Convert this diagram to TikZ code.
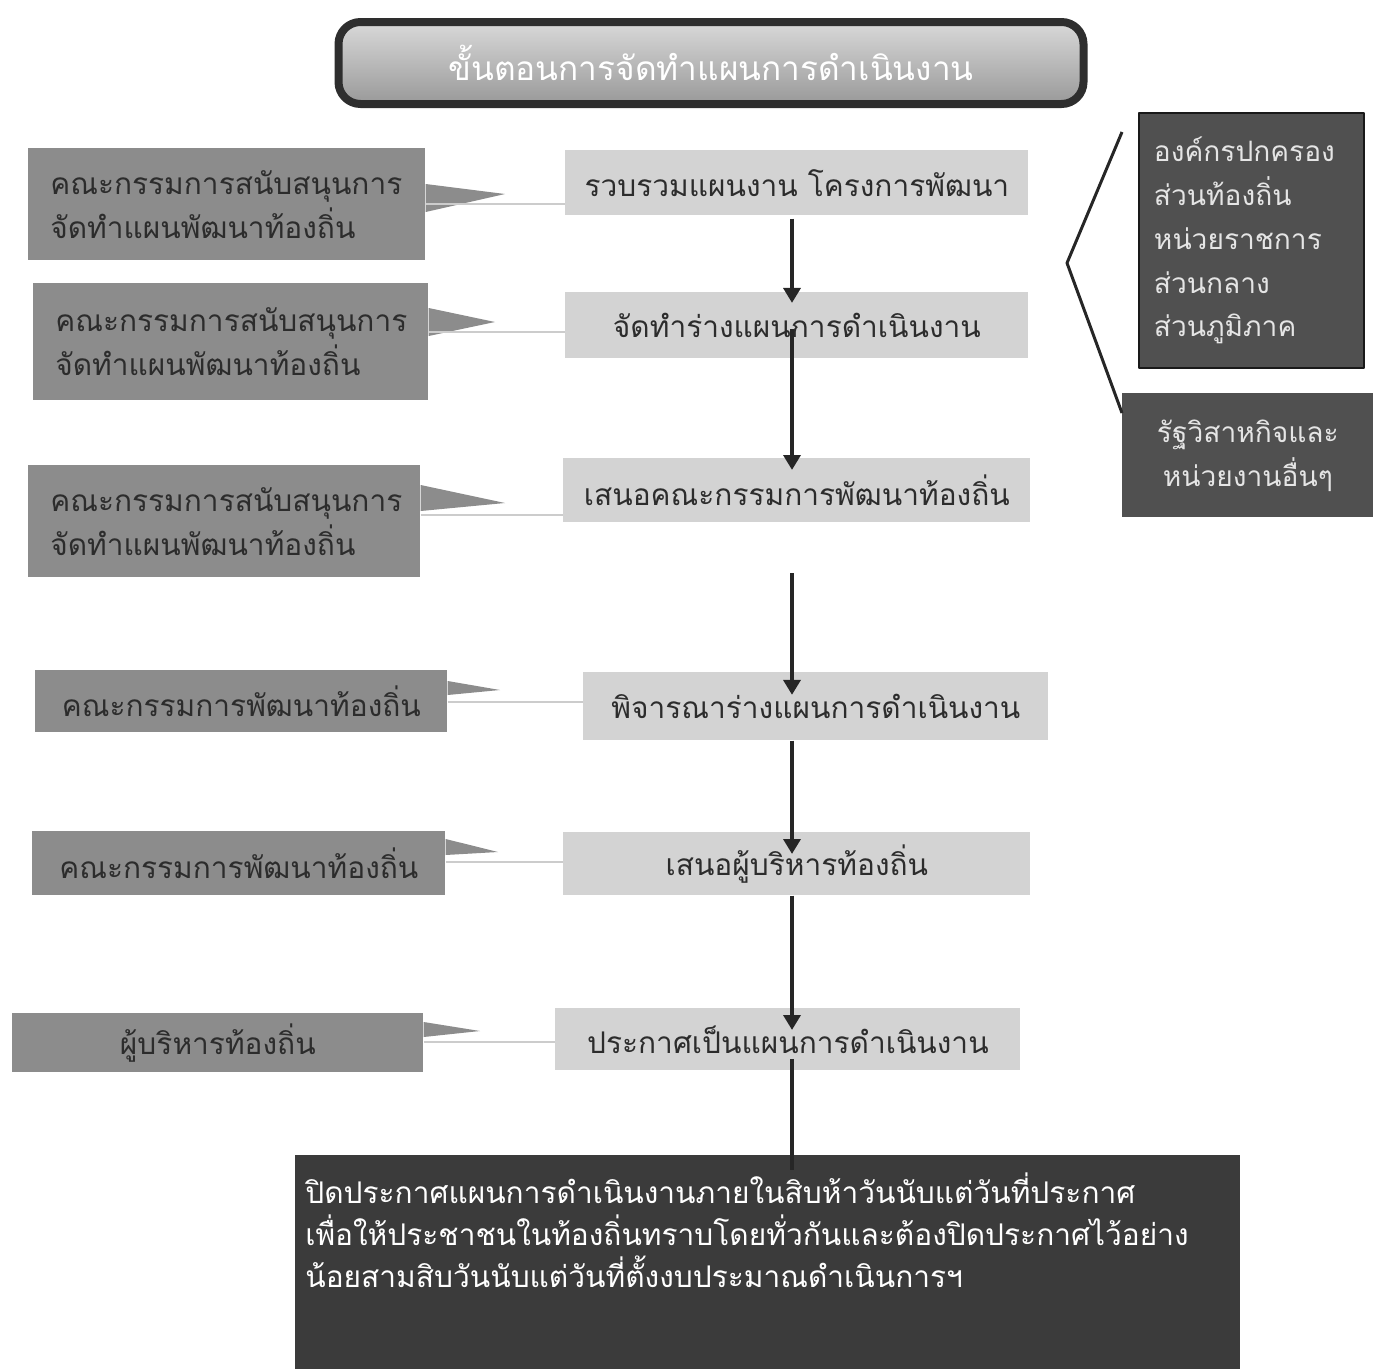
\documentclass[tikz,border=0pt]{standalone}
\usepackage{fontspec}
\newfontfamily\thaifont[Script=Thai]{Loma}
\usetikzlibrary{arrows.meta,positioning}
\newlength\pxu
\setlength\pxu{0.02cm}
\definecolor{callgray}{HTML}{8C8C8C}
\definecolor{stepgray}{HTML}{D3D3D3}
\definecolor{orggray}{HTML}{505050}
\definecolor{notegray}{HTML}{3B3B3B}
\definecolor{inkgray}{HTML}{2C2C2C}

\begin{document}
\begin{tikzpicture}[x=1\pxu, y=-1\pxu, line join=round]
  \tikzstyle{titlebox} = [draw=black!82, line width=8\pxu, rounded corners=22\pxu, top color=gray!30, bottom color=gray!80, minimum width=745\pxu, minimum height=82\pxu, text=white, font=\thaifont\fontsize{19}{24}\selectfont]
  \tikzstyle{callbox} = [fill=callgray, anchor=north west, inner xsep=22\pxu, inner ysep=0pt, text=inkgray, font=\thaifont\fontsize{17}{25}\selectfont]
  \tikzstyle{pointer} = [fill=callgray]
  \tikzstyle{stepbox} = [fill=stepgray, anchor=north west, inner sep=0pt, text=inkgray, font=\thaifont\fontsize{17}{24}\selectfont]
  \tikzstyle{orgbox} = [fill=orggray, anchor=north west, inner xsep=15\pxu, inner ysep=0pt, text=black!10, font=\thaifont\fontsize{16}{25}\selectfont]
  \tikzstyle{flow} = [draw=black!85, line width=2.3pt, -{Triangle[length=8.5pt,width=9.6pt]}]
  \tikzstyle{linkline} = [draw=gray!40, line width=1.1pt]
  \tikzstyle{bracket} = [draw=black!85, line width=1.7pt]

  \useasboundingbox (0,0) rectangle (1376,1369);

  % title
  \node[titlebox] (title) at (711,63) {ขั้นตอนการจัดทำแผนการดำเนินงาน};

  % steps in the middle
  \node[stepbox, minimum width=463\pxu, minimum height=65\pxu] (b1) at (565,150) {รวบรวมแผนงาน โครงการพัฒนา};
  \node[stepbox, minimum width=463\pxu, minimum height=66\pxu] (b2) at (565,292) {จัดทำร่างแผนการดำเนินงาน};
  \node[stepbox, minimum width=467\pxu, minimum height=64\pxu] (b3) at (563,458) {เสนอคณะกรรมการพัฒนาท้องถิ่น};
  \node[stepbox, minimum width=465\pxu, minimum height=68\pxu] (b4) at (583,672) {พิจารณาร่างแผนการดำเนินงาน};
  \node[stepbox, minimum width=467\pxu, minimum height=63\pxu] (b5) at (563,832) {เสนอผู้บริหารท้องถิ่น};
  \node[stepbox, minimum width=465\pxu, minimum height=62\pxu] (b6) at (555,1008) {ประกาศเป็นแผนการดำเนินงาน};

  % who does it, on the left
  \node[callbox, minimum height=112\pxu, text width=353\pxu, align=left] (c1) at (28,148) {คณะกรรมการสนับสนุนการ\\จัดทำแผนพัฒนาท้องถิ่น};
  \node[callbox, minimum height=117\pxu, text width=351\pxu, align=left] (c2) at (33,283) {คณะกรรมการสนับสนุนการ\\จัดทำแผนพัฒนาท้องถิ่น};
  \node[callbox, minimum height=112\pxu, text width=348\pxu, align=left] (c3) at (28,465) {คณะกรรมการสนับสนุนการ\\จัดทำแผนพัฒนาท้องถิ่น};
  \node[callbox, minimum height=62\pxu, minimum width=412\pxu] (c4) at (35,670) {คณะกรรมการพัฒนาท้องถิ่น};
  \node[callbox, minimum height=64\pxu, minimum width=413\pxu] (c5) at (32,831) {คณะกรรมการพัฒนาท้องถิ่น};
  \node[callbox, minimum height=59\pxu, minimum width=411\pxu] (c6) at (12,1013) {ผู้บริหารท้องถิ่น};

  \coordinate (t1) at (505,194);
  \coordinate (t2) at (495,322);
  \coordinate (t3) at (505,503);
  \coordinate (t4) at (500,690);
  \coordinate (t5) at (498,852);
  \coordinate (t6) at (480,1031);
  \fill[pointer] ([yshift=-36\pxu]c1.north east) -- (t1) -- ([yshift=-64\pxu]c1.north east) -- cycle;
  \fill[pointer] ([yshift=-25\pxu]c2.north east) -- (t2) -- ([yshift=-53\pxu]c2.north east) -- cycle;
  \fill[pointer] ([yshift=-20\pxu]c3.north east) -- (t3) -- ([yshift=-46\pxu]c3.north east) -- cycle;
  \fill[pointer] ([yshift=-11\pxu]c4.north east) -- (t4) -- ([yshift=-25\pxu]c4.north east) -- cycle;
  \fill[pointer] ([yshift=-8\pxu]c5.north east) -- (t5) -- ([yshift=-24\pxu]c5.north east) -- cycle;
  \fill[pointer] ([yshift=-9\pxu]c6.north east) -- (t6) -- ([yshift=-24\pxu]c6.north east) -- cycle;

  \coordinate (l1) at (0,204);
  \coordinate (l2) at (0,332);
  \coordinate (l3) at (0,515);
  \coordinate (l4) at (0,702);
  \coordinate (l5) at (0,862);
  \coordinate (l6) at (0,1042);
  \draw[linkline] (c1.east |- l1) -- (b1.west |- l1);
  \draw[linkline] (c2.east |- l2) -- (b2.west |- l2);
  \draw[linkline] (c3.east |- l3) -- (b3.west |- l3);
  \draw[linkline] (c4.east |- l4) -- (b4.west |- l4);
  \draw[linkline] (c5.east |- l5) -- (b5.west |- l5);
  \draw[linkline] (c6.east |- l6) -- (b6.west |- l6);

  % units on the right
  \node[orgbox, draw=black!90, line width=1.1pt, minimum height=255\pxu, text width=195\pxu, align=left] (orgA) at (1138,112) {องค์กรปกครอง\\ส่วนท้องถิ่น\\หน่วยราชการ\\ส่วนกลาง\\ส่วนภูมิภาค};
  \node[orgbox, minimum height=124\pxu, minimum width=251\pxu, align=center] (orgB) at (1122,393) {รัฐวิสาหกิจและ\\หน่วยงานอื่นๆ};
  \coordinate (brtop) at (1122,132);
  \coordinate (brtip) at (1067,263);
  \draw[bracket] (brtop) -- (brtip) -- ([yshift=-20\pxu]orgB.north west);

  % notice at the bottom
  \node[fill=notegray, anchor=north west, inner sep=0pt, minimum width=945\pxu, minimum height=214\pxu] (notice) at (295,1155) {};
  \node[anchor=north west, inner sep=0pt, align=left, text=white, font=\thaifont\fontsize{17}{24}\selectfont] (noticetext) at (305,1172) {ปิดประกาศแผนการดำเนินงานภายในสิบห้าวันนับแต่วันที่ประกาศ\\เพื่อให้ประชาชนในท้องถิ่นทราบโดยทั่วกันและต้องปิดประกาศไว้อย่าง\\น้อยสามสิบวันนับแต่วันที่ตั้งงบประมาณดำเนินการฯ};

  % flow
  \coordinate (col) at (792,0);
  \draw[flow, shorten <=1.7pt, shorten >=-6.2pt] (b1.south -| col) -- (b2.north -| col);
  \draw[flow, shorten <=-17pt, shorten >=-6.8pt] (b2.south -| col) -- (b3.north -| col);
  \draw[flow, shorten <=28.9pt, shorten >=-13pt] (b3.south -| col) -- (b4.north -| col);
  \draw[flow, shorten >=-12.5pt] (b4.south -| col) -- (b5.north -| col);
  \draw[flow, shorten >=-12.5pt] (b5.south -| col) -- (b6.north -| col);
  \draw[flow, -, shorten <=-6.8pt, shorten >=-8.5pt] (b6.south -| col) -- (notice.north -| col);
\end{tikzpicture}
\end{document}
